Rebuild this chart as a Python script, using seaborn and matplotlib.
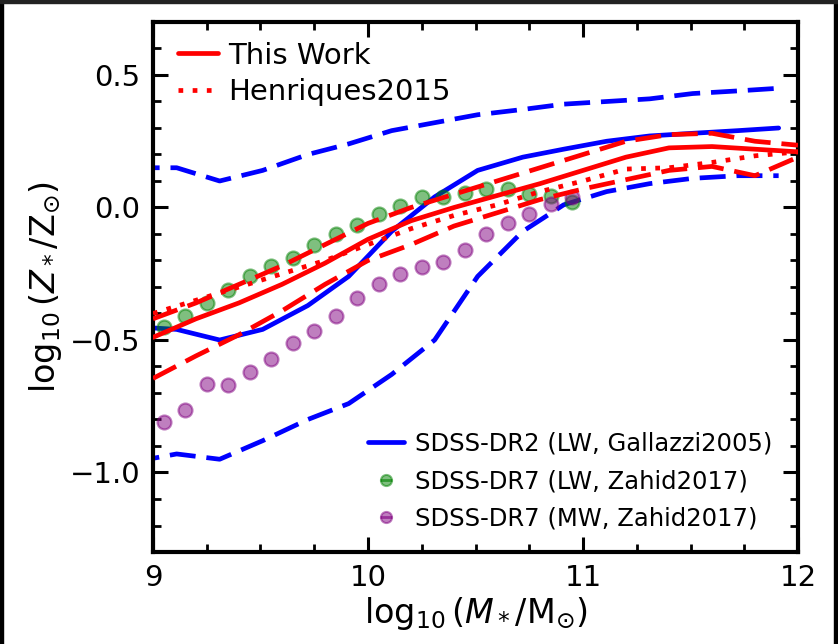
import numpy as np
import pandas as pd
import matplotlib
matplotlib.use("Agg")
import matplotlib.pyplot as plt
import seaborn as sns
from matplotlib.lines import Line2D
from matplotlib.legend_handler import HandlerTuple
from matplotlib.ticker import MultipleLocator
from matplotlib.patches import Rectangle

# ---------------- data ----------------
gal_mass = [8.91, 9.11, 9.31, 9.51, 9.72, 9.91, 10.11, 10.31, 10.51, 10.72, 10.91, 11.11, 11.31, 11.51, 11.72, 11.91]
gal_p50 = [-0.45, -0.46, -0.50, -0.46, -0.37, -0.26, -0.09, 0.04, 0.14, 0.19, 0.22, 0.25, 0.27, 0.28, 0.29, 0.30]
gal_p16 = [-0.96, -0.93, -0.95, -0.88, -0.80, -0.74, -0.63, -0.50, -0.26, -0.09, 0.01, 0.06, 0.09, 0.11, 0.12, 0.12]
gal_p84 = [0.15, 0.15, 0.10, 0.14, 0.20, 0.24, 0.29, 0.32, 0.35, 0.37, 0.39, 0.40, 0.41, 0.43, 0.44, 0.45]

tw_mass = [9.0, 9.2, 9.4, 9.6, 9.8, 10.0, 10.2, 10.4, 10.6, 10.8, 11.0, 11.2, 11.4, 11.6, 11.8, 12.0]
tw_med = [-0.49, -0.42, -0.36, -0.29, -0.21, -0.12, -0.05, 0.00, 0.045, 0.09, 0.14, 0.19, 0.225, 0.23, 0.22, 0.21]
tw_hi = [-0.42, -0.36, -0.29, -0.22, -0.14, -0.06, 0.00, 0.05, 0.10, 0.15, 0.20, 0.25, 0.275, 0.28, 0.25, 0.235]
tw_lo = [-0.645, -0.56, -0.48, -0.39, -0.29, -0.20, -0.14, -0.07, -0.02, 0.03, 0.07, 0.105, 0.14, 0.155, 0.12, 0.19]
hen_med = [-0.40, -0.35, -0.30, -0.25, -0.20, -0.14, -0.08, -0.03, 0.01, 0.06, 0.10, 0.145, 0.15, 0.17, 0.195, 0.21]

zah_mass = [9.05, 9.15, 9.25, 9.35, 9.45, 9.55, 9.65, 9.75, 9.85, 9.95,
            10.05, 10.15, 10.25, 10.35, 10.45, 10.55, 10.65, 10.75, 10.85, 10.95]
zah_lw = [-0.45, -0.41, -0.36, -0.31, -0.26, -0.22, -0.19, -0.14, -0.10, -0.065,
          -0.025, 0.005, 0.04, 0.04, 0.055, 0.07, 0.07, 0.05, 0.045, 0.02]
zah_mw = [-0.81, -0.765, -0.665, -0.67, -0.62, -0.57, -0.51, -0.465, -0.41, -0.34,
          -0.29, -0.25, -0.225, -0.205, -0.16, -0.10, -0.057, -0.024, 0.015, 0.04]

labels_top = ["This Work", "Henriques2015"]
labels_bottom = ["SDSS-DR2 (LW, Gallazzi2005)", "SDSS-DR7 (LW, Zahid2017)", "SDSS-DR7 (MW, Zahid2017)"]

# ---------------- style ----------------
sns.set_style("ticks")
plt.rcParams["font.family"] = ["DejaVu Sans"]
plt.rcParams["mathtext.fontset"] = "dejavusans"
for k in ["text.color", "axes.labelcolor", "xtick.color", "ytick.color", "axes.edgecolor"]:
    plt.rcParams[k] = "black"

fig = plt.figure(figsize=(8.38, 6.44), dpi=100)
ax = fig.add_axes([153 / 838, 1 - 552 / 644, (798 - 153) / 838, (552 - 22) / 644])

LW = 3.4
DASH = (0, (5.5, 2.3))
DOT = (0, (1, 2.0))

# Gallazzi 2005
sns.lineplot(x=gal_mass, y=gal_p50, ax=ax, color="blue", lw=LW, sort=False)
sns.lineplot(x=gal_mass, y=gal_p16, ax=ax, color="blue", lw=LW, linestyle=DASH, sort=False)
sns.lineplot(x=gal_mass, y=gal_p84, ax=ax, color="blue", lw=LW, linestyle=DASH, sort=False)

# Zahid 2017
sns.scatterplot(x=zah_mass, y=zah_lw, ax=ax, color="green", alpha=0.5, s=100,
                edgecolor="green", linewidth=1.6, zorder=3)
sns.scatterplot(x=zah_mass, y=zah_mw, ax=ax, color="purple", alpha=0.5, s=100,
                edgecolor="purple", linewidth=1.6, zorder=3)

# This work & Henriques
sns.lineplot(x=tw_mass, y=tw_med, ax=ax, color="red", lw=LW, sort=False, zorder=4)
sns.lineplot(x=tw_mass, y=tw_hi, ax=ax, color="red", lw=LW, linestyle=DASH, sort=False, zorder=4)
sns.lineplot(x=tw_mass, y=tw_lo, ax=ax, color="red", lw=LW, linestyle=DASH, sort=False, zorder=4)
sns.lineplot(x=tw_mass, y=hen_med, ax=ax, color="red", lw=LW, linestyle=DOT, sort=False, zorder=4)

ax.set_xlim(9, 12)
ax.set_ylim(-1.3, 0.7)
ax.xaxis.set_major_locator(MultipleLocator(1))
ax.xaxis.set_minor_locator(MultipleLocator(0.25))
ax.yaxis.set_major_locator(MultipleLocator(0.5))
ax.yaxis.set_minor_locator(MultipleLocator(0.1))
ax.set_yticks([-1.0, -0.5, 0.0, 0.5])
ax.set_yticklabels(["\u22121.0", "\u22120.5", "0.0", "0.5"])

for sp in ax.spines.values():
    sp.set_linewidth(3)
    sp.set_color("black")
ax.tick_params(which="both", direction="in", top=True, right=True, colors="black")
ax.tick_params(which="major", length=11, width=2.2, labelsize=21, pad=9)
ax.tick_params(which="minor", length=6, width=2.0)

ax.set_xlabel(r"$\log_{10}(M_*/\mathrm{M}_{\odot})$", fontsize=24, labelpad=2)
ax.set_ylabel(r"$\log_{10}(Z_*/\mathrm{Z}_{\odot})$", fontsize=24, labelpad=4)

# legends
h1 = [Line2D([], [], color="red", lw=LW),
      Line2D([], [], color="red", lw=LW, linestyle=DOT)]
leg1 = ax.legend(h1, labels_top, loc="upper left", bbox_to_anchor=(0.020, 0.985),
                 frameon=False, fontsize=21,
                 handlelength=1.4, handletextpad=0.35, labelspacing=0.28,
                 borderaxespad=0, borderpad=0.4)
ax.add_artist(leg1)

def dot_handle(c):
    return (Line2D([], [], ls="none", marker="o", ms=8, color=c, alpha=0.5, mec=c, mew=1.5),
            Line2D([], [], ls="none", marker="_", ms=8, color=c, alpha=0.6, mew=2))

h2 = [Line2D([], [], color="blue", lw=LW), dot_handle("green"), dot_handle("purple")]
ax.legend(h2, labels_bottom, loc="lower right", bbox_to_anchor=(1 - 18 / 645, 14 / 530),
          frameon=False, fontsize=17.5,
          handlelength=1.5, handletextpad=0.45, labelspacing=0.55,
          borderaxespad=0, borderpad=0.3,
          handler_map={tuple: HandlerTuple(ndivide=1)})

# screenshot frame edges
fig.patches.append(Rectangle((0, 0), 3 / 838, 1, transform=fig.transFigure, color="black", zorder=10))
fig.patches.append(Rectangle((1 - 4 / 838, 0), 4 / 838, 1, transform=fig.transFigure, color="black", zorder=10))
fig.patches.append(Rectangle((0, 1 - 3 / 644), 1, 3 / 644, transform=fig.transFigure, color="#222222", zorder=10))

fig.savefig("out.png", dpi=100)
